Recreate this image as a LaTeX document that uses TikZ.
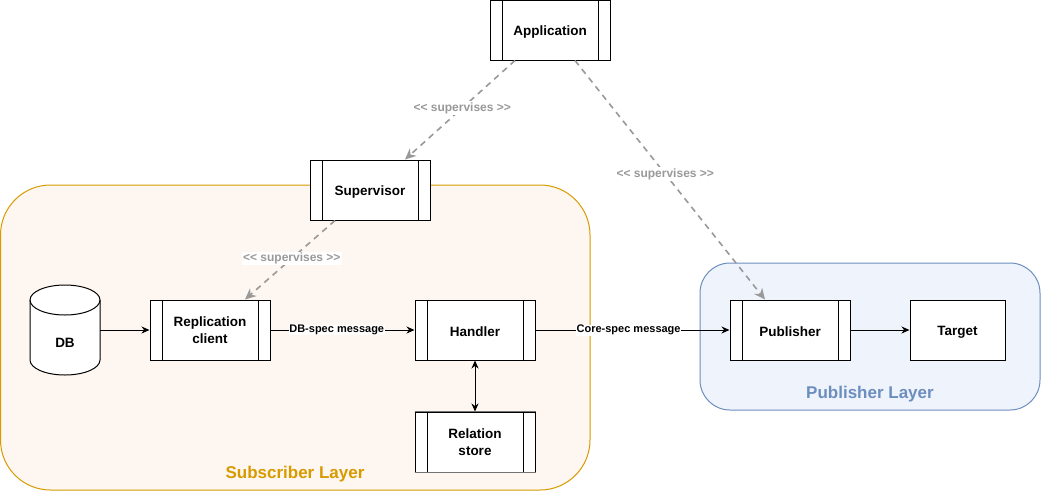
\documentclass[tikz,border=0pt]{standalone}
\usepackage{fontspec}
\setmainfont{Liberation Sans}
\usetikzlibrary{arrows.meta,positioning}
\definecolor{subfill}{HTML}{FEF6F0}
\definecolor{subline}{HTML}{D79B00}
\definecolor{pubfill}{HTML}{EFF3FB}
\definecolor{publine}{HTML}{6C8EBF}
\definecolor{supgray}{HTML}{999999}
\newcommand{\suptext}{<\kern0pt<\kern0pt\ supervises >\kern0pt>}
\newcommand{\lowtext}[1]{\raisebox{-2pt}[\height][\depth]{#1}}
\tikzset{
  procbox/.style={draw, fill=white, line width=1pt, minimum width=120pt, minimum height=60pt,
    inner sep=0pt, align=center, font=\fontsize{13.5}{17}\selectfont\bfseries,
    path picture={
      \draw[line width=1pt] ([xshift=12pt]path picture bounding box.north west) -- ([xshift=12pt]path picture bounding box.south west);
      \draw[line width=1pt] ([xshift=-12pt]path picture bounding box.north east) -- ([xshift=-12pt]path picture bounding box.south east);
    }},
  plainbox/.style={draw, fill=white, line width=1pt, minimum width=95pt, minimum height=60pt,
    inner sep=0pt, align=center, font=\fontsize{13.5}{17}\selectfont\bfseries},
  flow/.style={draw, line width=1pt, -{Stealth[length=8pt,width=7pt]}},
  biflow/.style={draw, line width=1pt, {Stealth[length=8pt,width=7pt]}-{Stealth[length=8pt,width=7pt]}},
  msglabel/.style={fill=white, inner sep=0.5pt, font=\fontsize{11}{13}\selectfont\bfseries, text=black},
  supflow/.style={draw=supgray, line width=1.6pt, dash pattern=on 6pt off 5pt,
    -{Stealth[length=11pt,width=10pt,fill=supgray]}},
  suplabel/.style={fill=white, inner sep=1pt, font=\fontsize{12}{14}\selectfont\bfseries, text=supgray},
  layerlabel/.style={font=\fontsize{17}{20}\selectfont\bfseries},
}
\begin{document}
\begin{tikzpicture}[x=1pt,y=-1pt]
\useasboundingbox (0,0) rectangle (1042,491);
% layers
\draw[subline, fill=subfill, line width=1pt, rounded corners=50pt] (0.5,185) rectangle (590,490);
\draw[publine, fill=pubfill, line width=1pt, rounded corners=30pt] (700,263) rectangle (1040,410);
\node[layerlabel, text=subline] (sublbl) at (295,474) {Subscriber Layer};
\node[layerlabel, text=publine] (publbl) at (870,394) {Publisher Layer};
% nodes
\node[procbox] (app) at (550,30) {\lowtext{Application}};
\node[procbox] (sup) at (370,190) {\lowtext{Supervisor}};
\node[procbox] (rep) at (210,330) {Replication\\client};
\node[procbox] (hdl) at (475,330) {\lowtext{Handler}};
\node[procbox] (rel) at (475,442) {Relation\\store};
\draw[line width=1pt, draw=gray!110] (rel.north west) -- (rel.north east) (rel.south west) -- (rel.south east);
\node[procbox] (pub) at (790,330) {\lowtext{Publisher}};
\node[plainbox] (tgt) at (957.5,330) {\lowtext{Target}};
% DB cylinder
\node[minimum width=70pt, minimum height=90pt, inner sep=0pt] (db) at (65,330) {};
\draw[line width=1pt, fill=white] (30,300) -- (30,360) arc[start angle=180, end angle=360, x radius=35, y radius=-15] -- (100,300) arc[start angle=0, end angle=180, x radius=35, y radius=-15] -- cycle;
\draw[line width=1pt] (30,300) arc[start angle=180, end angle=360, x radius=35, y radius=-15];
\node[font=\fontsize{13.5}{17}\selectfont\bfseries] (dblbl) at (65,343) {DB};
% connectors
\draw[flow] (db.east) -- (rep.west);
\draw[flow] (rep.east) -- node[msglabel, pos=0.46] {DB-spec message} (hdl.west);
\draw[flow] (hdl.east) -- node[msglabel, pos=0.48] {Core-spec message} (pub.west);
\draw[biflow] (hdl.south) -- (rel.north);
\draw[flow] (pub.east) -- (tgt.west);
\draw[supflow] ([xshift=-35pt]app.south) -- node[suplabel, pos=0.48] {\suptext} ([xshift=35pt]sup.north);
\draw[supflow] ([xshift=25pt]app.south) -- node[suplabel, pos=0.475] {\suptext} ([xshift=-25pt]pub.north);
\draw[supflow] ([xshift=-35pt]sup.south) -- node[suplabel, pos=0.48] {\suptext} ([xshift=35pt]rep.north);
\end{tikzpicture}
\end{document}
